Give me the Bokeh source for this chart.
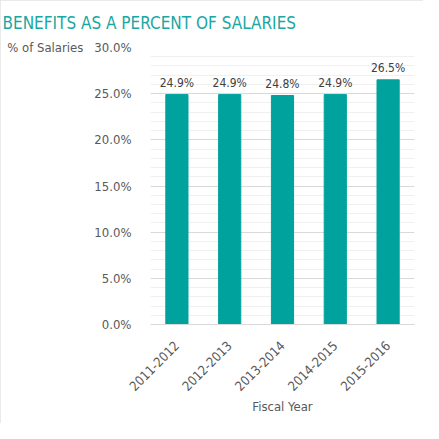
import math
from bokeh.plotting import figure
from bokeh.models import (ColumnDataSource, LabelSet, SingleIntervalTicker,
                          PrintfTickFormatter, Range1d)
from bokeh.core.properties import value
from bokeh.embed import file_html
from bokeh.resources import INLINE

years = ["2011-2012", "2012-2013", "2013-2014", "2014-2015", "2015-2016"]
pct = [24.9, 24.9, 24.8, 24.9, 26.5]
labels = ["24.9%", "24.9%", "24.8%", "24.9%", "26.5%"]

FONT = "DejaVu Sans Condensed"
TEAL = "#00A29D"
GRAY = "#595959"

src = ColumnDataSource(dict(years=years, pct=pct, labels=labels))

p = figure(x_range=years, y_range=Range1d(0, 30), width=423, height=423,
           output_backend="svg", toolbar_location=None,
           title="BENEFITS AS A PERCENT OF SALARIES",
           min_border_left=150, min_border_right=9, min_border_top=47,
           min_border_bottom=99)
p.outline_line_color = None
p.styles = {"outline": "2px solid #e3e3e3", "outline-offset": "-2px"}

p.title.align = "left"
p.title.offset = -148
p.title.standoff = 25
p.title.vertical_align = "top"
p.title.padding = 0
p.title.text_line_height = 1.0
p.title.text_font = FONT
p.title.text_font_size = "17px"
p.title.text_font_style = "normal"
p.title.text_color = "#1AA7A2"

p.vbar(x="years", top="pct", width=0.42, source=src, color=TEAL)

p.add_layout(LabelSet(x="years", y="pct", text="labels", source=src,
                      text_align="center", text_baseline="bottom", y_offset=5,
                      text_font=value(FONT), text_font_size="12px",
                      text_color="#404040"))

p.yaxis.ticker = SingleIntervalTicker(interval=5, num_minor_ticks=5)
p.yaxis.formatter = PrintfTickFormatter(format="%.1f%%")
p.yaxis.axis_line_color = None
p.yaxis.major_tick_line_color = None
p.yaxis.minor_tick_line_color = None
p.yaxis.major_label_standoff = 13
p.yaxis.major_label_text_font = FONT
p.yaxis.major_label_text_font_size = "13px"
p.yaxis.major_label_text_color = GRAY
p.yaxis.axis_label = "% of Salaries"
p.yaxis.axis_label_orientation = "horizontal"
p.yaxis.axis_label_align = "end"
p.yaxis.axis_label_standoff = 8
p.yaxis.axis_label_text_font = FONT
p.yaxis.axis_label_text_font_size = "13px"
p.yaxis.axis_label_text_font_style = "normal"
p.yaxis.axis_label_text_color = GRAY

p.xaxis.axis_line_color = "#d9d9d9"
p.xaxis.major_tick_line_color = None
p.xaxis.minor_tick_line_color = None
p.xaxis.major_label_orientation = math.pi / 4
p.xaxis.major_label_text_font = FONT
p.xaxis.major_label_text_font_size = "13px"
p.xaxis.major_label_text_color = GRAY
p.xaxis.major_label_standoff = 13
p.xaxis.axis_label = "Fiscal Year"
p.xaxis.axis_label_standoff = 1
p.xaxis.axis_label_text_font = FONT
p.xaxis.axis_label_text_font_size = "13px"
p.xaxis.axis_label_text_font_style = "normal"
p.xaxis.axis_label_text_color = GRAY

p.xgrid.grid_line_color = None
p.ygrid.grid_line_color = "#d9d9d9"
p.ygrid.minor_grid_line_color = "#f0f0f0"

open("out.html", "w").write(file_html(p, INLINE))
